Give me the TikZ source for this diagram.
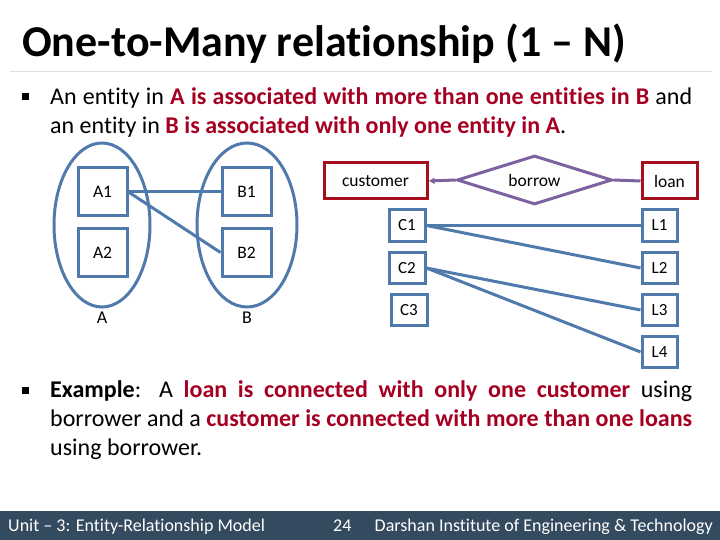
\documentclass[tikz,border=0pt]{standalone}
\usepackage{fontspec}
\setmainfont{Carlito}[Ligatures=NoCommon]
\usetikzlibrary{shapes.geometric,arrows.meta}
\definecolor{bl}{HTML}{5079AC}
\definecolor{dred}{HTML}{A50F1E}
\definecolor{txtred}{HTML}{A50021}
\definecolor{purp}{HTML}{7D62A0}
\definecolor{foot}{HTML}{344A5E}
\begin{document}
\begin{tikzpicture}[x=1pt,y=-1pt,
  ebox/.style={draw=bl,line width=3pt,minimum width=49pt,minimum height=48pt,inner sep=0pt,font=\fontsize{17.5}{17.5}\selectfont},
  sbox/.style={draw=bl,line width=3pt,minimum width=36pt,minimum height=31pt,inner sep=0pt,font=\fontsize{17}{17}\selectfont},
  rbox/.style={draw=dred,line width=3pt,minimum height=36pt,inner sep=0pt,font=\fontsize{17.5}{17.5}\selectfont},
  bline/.style={draw=bl,line width=3pt},
  pline/.style={draw=purp,line width=3pt},
  set/.style={draw=bl,line width=3pt,ellipse,inner sep=0pt},
  lbl/.style={font=\fontsize{18}{18}\selectfont},
  bullet/.style={fill=black,minimum size=7pt,inner sep=0pt},
  body/.style={anchor=north west,inner sep=0pt,text width=642pt,align=justify,font=\fontsize{24}{29}\selectfont},
  ftext/.style={text=white,font=\fontsize{18}{18}\selectfont,inner sep=0pt}]
\useasboundingbox (0,0) rectangle (720,540);
% title
\node[anchor=base west,inner sep=0pt,font=\fontsize{44}{44}\selectfont\bfseries] (title) at (22,57) {One-to-Many relationship (1 -- N)};
\draw[draw=black!12,line width=1pt] (10,72) -- (712,72);
% bullet 1
\node[bullet] (b1) at (25.5,97) {};
\node[body] (t1) at (50,87.5) {An entity in \textcolor{txtred}{\textbf{A is associated with more than one entities in B}} and\linebreak an entity in \textcolor{txtred}{\textbf{B is associated with only one entity in A}}.};
% left diagram
\node[set,minimum width=96pt,minimum height=164pt] (setA) at (102,225) {};
\node[set,minimum width=100pt,minimum height=164pt] (setB) at (247,225) {};
\node[ebox] (A1) at (102.5,192) {A1};
\node[ebox] (A2) at (102.5,252.5) {A2};
\node[ebox] (B1) at (246.5,192) {B1};
\node[ebox] (B2) at (246.5,252.5) {B2};
\draw[bline] (A1.east) -- (B1.west);
\draw[bline] (A1.east) -- (B2.west);
\node[lbl] (la) at (102,318) {A};
\node[lbl] (lb) at (247,318) {B};
% right diagram
\node[rbox,minimum width=103pt] (cust) at (375.5,181) {customer};
\node[rbox,minimum width=55pt] (loan) at (669.5,181) {loan};
\node[draw=purp,line width=3pt,diamond,aspect=3.2,minimum width=155pt,minimum height=49pt,inner sep=0pt,font=\fontsize{17.5}{17.5}\selectfont] (bor) at (534.5,180) {borrow};
\draw[pline,-{Latex[length=6pt,width=7pt]}] (bor.west) -- (cust.east);
\draw[pline] (bor.east) -- (loan.west);
\node[sbox] (C1) at (407,225.5) {C1};
\node[sbox] (C2) at (407,268) {C2};
\node[sbox] (C3) at (409,310) {C3};
\node[sbox,minimum width=35pt] (L1) at (659.5,225.5) {L1};
\node[sbox,minimum width=35pt] (L2) at (659.5,268) {L2};
\node[sbox,minimum width=35pt] (L3) at (659.5,310) {L3};
\node[sbox,minimum width=35pt] (L4) at (659.5,352) {L4};
\draw[bline] (C1.east) -- (L1.west);
\draw[bline] (C1.east) -- (L2.west);
\draw[bline] (C2.east) -- (L3.west);
\draw[bline] (C2.east) -- (L4.west);
% bullet 2
\node[bullet] (b2) at (25.5,390) {};
\node[body] (t2) at (50,380.5) {\textbf{Example}: A \textcolor{txtred}{\textbf{loan is connected with only one customer}} using\linebreak borrower and a \textcolor{txtred}{\textbf{customer is connected with more than one loans}}\linebreak using borrower.};
% footer
\fill[foot] (0,511) rectangle (720,540);
\node[ftext,anchor=base west] (f1) at (8,531) {Unit -- 3: Entity-Relationship Model};
\node[ftext,anchor=base west] (f2) at (333,531) {24};
\node[ftext,anchor=base east] (f3) at (713,531) {Darshan Institute of Engineering \& Technology};
\end{tikzpicture}
\end{document}
